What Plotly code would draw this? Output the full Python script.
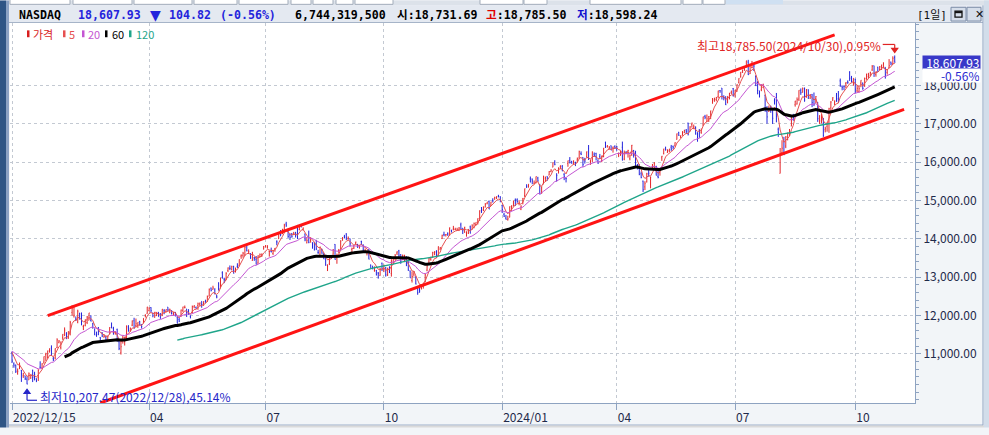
import numpy as np
import pandas as pd
import plotly.graph_objects as go

# ------------------------------------------------------------------ data
INDEX_NAME = "NASDAQ"
VOLUME_TEXT = "6,744,319,500"
FIRST_DAY = "2022-12-15"
LAST_DAY = "2024-10-30"
CAL_START = "2022-11-01"
HOLIDAYS = ["2022-11-24", "2022-12-26", "2023-01-02", "2023-01-16", "2023-02-20",
            "2023-04-07", "2023-05-29", "2023-06-19", "2023-07-04", "2023-09-04",
            "2023-11-23", "2023-12-25", "2024-01-01", "2024-01-15", "2024-02-19",
            "2024-03-29", "2024-05-27", "2024-06-19", "2024-07-04", "2024-09-02",
            "2024-11-28"]

# closes before the first shown bar (moving-average warm-up), 2022-11-01 .. 2022-12-14
PRE_CLOSE = [10890, 10525, 10343, 10475, 10565, 10617, 10353, 11114, 11323, 11196, 11358,
             11184, 11145, 11146, 11025, 11174, 11286, 11226, 11050, 10984, 11468,
             11482, 11462, 11240, 11015, 10958, 11082, 11005, 11144, 11256, 11171]

OPEN = [
    11027, 10741, 10706, 10497, 10611, 10572, 10429, 10431, 10339, 10321, 10368,
    10562, 10474, 10357, 10385, 10654, 10635, 10785, 10980, 10904, 11058, 11151, 10884, 10893, 11166, 11302, 11168, 11422, 11476, 11519, 11406,
    11574, 12081, 11994, 11910, 11830, 12066, 12057, 11715, 11745, 11819, 11877, 11878, 11800, 11656, 11525, 11681, 11432, 11555, 11439,
    11437, 11334, 11525, 11747, 11668, 11548, 11638, 11319, 11029, 11340, 11313, 11410, 11681, 11609, 11749, 11863, 11738, 11734, 11852, 11767, 11809, 12005, 12056,
    12131, 12211, 12066, 11953, 12001, 12086, 12055, 11993, 12125, 12112, 12221, 12087, 12060, 12031, 12083, 11961, 11899, 11983, 12134,
    12209, 12172, 12083, 11982, 12067, 12229, 12210, 12262, 12300, 12370, 12310, 12349, 12380, 12508, 12717, 12682, 12669, 12509, 12852, 12714, 13115, 12950,
    12952, 13171, 13231, 13198, 13284, 13143, 13282, 13309, 13552, 13572, 13576, 13838, 13620, 13618, 13436, 13510, 13467, 13371, 13526, 13571, 13738,
    13789, 13782, 13675, 13673, 13618, 13736, 13925, 14004, 14143, 14137, 14240, 14390, 14252, 14105, 14129, 14109, 14159, 14350, 14243, 14356,
    14248, 14131, 13898, 14040, 13959, 13903, 13910, 13841, 13650, 13602, 13718, 13584, 13550, 13178, 13351, 13552, 13600, 13857, 13501, 13695, 13730, 13982, 14058,
    14129, 14000, 14008, 13724, 13749, 13888, 13857, 13806, 13934, 13845, 13672, 13638, 13716, 13318, 13251, 13172, 13180, 13111, 13046, 13364,
    13217, 13247, 13070, 13243, 13096, 13373, 13477, 13632, 13688, 13590, 13464, 13439, 13490, 13360, 13165, 12914, 13084, 13008, 12703, 12680, 12715, 12797,
    12890, 13186, 13395, 13472, 13527, 13641, 13667, 13560, 13732, 14011, 14111, 14105, 14137, 14094, 14227, 14253, 14244, 14227, 14230, 14367, 14279,
    14181, 14157, 14151, 14314, 14249, 14297, 14375, 14416, 14520, 14815, 14753, 14826, 14919, 14974, 14880, 15010, 15034, 15070, 15113, 15100,
    14873, 14641, 14543, 14502, 14564, 14742, 14857, 15014, 15022, 14925, 14777, 14943, 15131, 15370, 15393, 15566, 15561, 15452, 15469, 15587, 15397,
    15222, 15483, 15585, 15630, 15664, 15758, 15870, 16000, 15702, 15770, 15889, 15896, 15683, 15580, 15970, 16052, 16013, 16004, 15991, 16058,
    16109, 16227, 16125, 16066, 16146, 16355, 16010, 16083, 16210, 16227, 16034, 16153, 16031, 16150, 16511, 16406, 16353, 16432, 16394, 16411,
    16401, 16192, 16180, 16390, 16082, 16259, 16283, 16091, 16211, 16307, 16259, 15882, 15924, 15700, 15506, 15357, 15487, 15777, 15431, 15856, 15981, 15887,
    15630, 15729, 16114, 16224, 16375, 16254, 16301, 16393, 16413, 16426, 16597, 16782, 16670, 16706, 16768, 16841, 17019, 16806, 16988, 16893, 16919, 16778,
    16846, 16773, 16970, 17197, 17067, 17084, 17202, 17550, 17637, 17639, 17713, 17870, 17935, 17698, 17661, 17560, 17655, 17815, 17921,
    17758, 17851, 18071, 18229, 18388, 18426, 18477, 18613, 18306, 18469, 18546, 18237, 18079, 17802, 17887, 17949, 17749, 17320, 17327, 17463, 17390, 17603,
    17641, 16862, 15708, 16254, 16597, 16423, 16588, 16769, 16940, 17207, 17500, 17519, 17647, 17863, 17827, 17931, 17718, 17890, 17673, 17761, 17638, 17652,
    17563, 17054, 17057, 17120, 16849, 16936, 17049, 17418, 17622, 17545, 17730, 17657, 18121, 17983, 17983, 18060, 18094, 18349, 18206, 18089,
    18167, 17861, 17847, 18067, 18064, 17991, 18186, 18236, 18250, 18407, 18518, 18292, 18480, 18420, 18449, 18456, 18478, 18341, 18475, 18611, 18560, 18731.69,
]
HIGH = [
    11063, 10779, 10723, 10620, 10775, 10583, 10500, 10431, 10414, 10516, 10468,
    10591, 10534, 10361, 10602, 10807, 10756, 10932, 11029, 11086, 11147, 11223, 10920, 11143, 11407, 11361, 11323, 11514, 11691, 11567, 11587,
    11862, 12270, 12227, 11977, 12153, 12068, 12080, 11760, 11897, 11990, 12070, 12008, 11800, 11657, 11581, 11702, 11440, 11567, 11513,
    11474, 11473, 11696, 11819, 11707, 11591, 11659, 11393, 11318, 11474, 11448, 11744, 11749, 11683, 11872, 11942, 11922, 11824, 11859, 11770, 11930, 12031, 12227,
    12217, 12219, 12074, 12096, 12090, 12090, 12063, 12172, 12169, 12160, 12221, 12182, 12143, 12091, 12094, 11979, 11945, 12157, 12229,
    12262, 12172, 12167, 12006, 12262, 12269, 12236, 12338, 12339, 12372, 12373, 12414, 12521, 12704, 12731, 12778, 12714, 12541, 12866, 12983, 13154, 12988,
    13130, 13257, 13307, 13301, 13297, 13249, 13365, 13464, 13594, 13661, 13804, 13864, 13727, 13627, 13663, 13528, 13553, 13573, 13620, 13622, 13816,
    13839, 13836, 13692, 13772, 13713, 13763, 13964, 14141, 14232, 14264, 14394, 14446, 14258, 14128, 14155, 14183, 14184, 14364, 14356, 14388,
    14297, 14131, 14016, 14216, 14041, 13908, 13915, 13975, 13714, 13791, 13743, 13638, 13571, 13337, 13511, 13582, 13732, 13864, 13615, 13738, 13966, 14047, 14105,
    14149, 14064, 14011, 13773, 13838, 13927, 13869, 13847, 13952, 13856, 13747, 13689, 13733, 13331, 13302, 13277, 13190, 13135, 13246, 13382,
    13329, 13265, 13248, 13286, 13471, 13492, 13606, 13678, 13714, 13602, 13592, 13587, 13550, 13422, 13175, 13150, 13160, 13023, 12729, 12722, 12812, 12852,
    13091, 13305, 13503, 13533, 13664, 13681, 13705, 13803, 13789, 14109, 14188, 14128, 14172, 14299, 14238, 14340, 14291, 14290, 14309, 14423, 14280,
    14315, 14195, 14260, 14347, 14382, 14426, 14432, 14533, 14745, 14832, 14850, 14933, 14964, 15003, 14966, 15060, 15101, 15112, 15150, 15111,
    14887, 14683, 14626, 14603, 14846, 14876, 15003, 15055, 15057, 15009, 14874, 15068, 15311, 15426, 15428, 15627, 15575, 15524, 15628, 15619, 15434,
    15365, 15649, 15627, 15632, 15769, 15817, 15990, 16053, 15706, 15861, 15918, 15926, 15716, 15590, 16042, 16134, 16038, 16047, 16013, 16123,
    16302, 16283, 16130, 16115, 16279, 16449, 16071, 16282, 16255, 16247, 16077, 16216, 16170, 16370, 16538, 16446, 16422, 16435, 16401, 16442,
    16425, 16251, 16301, 16538, 16304, 16291, 16324, 16207, 16451, 16320, 16299, 15955, 15945, 15757, 15522, 15504, 15724, 15786, 15623, 15955, 15996, 15908,
    15840, 15846, 16165, 16349, 16407, 16338, 16346, 16451, 16434, 16518, 16748, 16791, 16702, 16810, 16846, 16865, 17032, 16940, 17032, 16983, 16932, 16780,
    16860, 16879, 17188, 17236, 17245, 17206, 17343, 17675, 17682, 17703, 17866, 17880, 17936, 17747, 17723, 17722, 17806, 17864, 17937,
    17888, 18030, 18189, 18352, 18416, 18464, 18647, 18671, 18528, 18642, 18577, 18268, 18115, 17871, 18032, 18049, 17756, 17465, 17476, 17473, 17422, 17669,
    17807, 16905, 16371, 16574, 16662, 16681, 16774, 16867, 17191, 17262, 17602, 17690, 17878, 17925, 17951, 17948, 17910, 17900, 17777, 17782, 17819, 17725,
    17570, 17228, 17261, 17155, 16927, 17026, 17420, 17594, 17695, 17612, 17807, 17858, 18183, 18003, 18001, 18085, 18135, 18375, 18252, 18190,
    18177, 17989, 17987, 18138, 18079, 18209, 18312, 18331, 18361, 18535, 18519, 18367, 18490, 18509, 18542, 18608, 18478, 18429, 18690, 18625, 18763, 18785.50,
]
LOW = [
    10761, 10639, 10502, 10457, 10607, 10269, 10373, 10318, 10207.47, 10321, 10349,
    10265, 10309, 10263, 10294, 10630, 10600, 10743, 10818, 10880, 11033, 10951, 10811, 10858, 11150, 11275, 11116, 11367, 11470, 11392, 11395,
    11483, 11997, 11947, 11858, 11799, 11896, 11745, 11622, 11719, 11778, 11876, 11848, 11657, 11491, 11445, 11487, 11331, 11438, 11424,
    11355, 11320, 11508, 11670, 11501, 11502, 11324, 11098, 10983, 11268, 11218, 11345, 11577, 11574, 11723, 11667, 11693, 11679, 11737, 11662, 11801, 11951, 12048,
    12108, 12081, 11955, 11946, 11986, 11972, 11919, 11990, 12034, 12082, 12113, 12059, 12028, 11998, 11975, 11794, 11829, 11965, 12095,
    12187, 11963, 12023, 11925, 12061, 12190, 12179, 12151, 12254, 12204, 12253, 12343, 12355, 12500, 12629, 12677, 12555, 12450, 12650, 12713, 12962, 12846,
    12920, 13134, 13186, 13182, 13097, 13125, 13244, 13283, 13480, 13510, 13560, 13675, 13606, 13480, 13430, 13428, 13335, 13350, 13513, 13528, 13722,
    13783, 13746, 13538, 13650, 13582, 13664, 13832, 13999, 14068, 14124, 14189, 14313, 14027, 13970, 14032, 14102, 14036, 13995, 14224, 14298,
    14221, 13939, 13883, 13886, 13901, 13744, 13695, 13708, 13608, 13589, 13610, 13474, 13299, 13161, 13317, 13476, 13585, 13459, 13351, 13624, 13723, 13950, 14012,
    13970, 13977, 13801, 13646, 13745, 13848, 13768, 13745, 13837, 13687, 13650, 13568, 13468, 13223, 13210, 13144, 13046, 12963, 13039, 13161,
    13133, 13017, 13031, 13108, 13017, 13337, 13456, 13580, 13485, 13349, 13460, 13393, 13289, 13165, 12978, 12861, 13018, 12814, 12543, 12594, 12680, 12703,
    12871, 13154, 13376, 13431, 13507, 13574, 13508, 13552, 13716, 13996, 14068, 14062, 14080, 14086, 14166, 14221, 14227, 14206, 14204, 14247, 14126,
    14158, 14058, 14126, 14144, 14242, 14277, 14345, 14373, 14467, 14676, 14724, 14822, 14903, 14777, 14861, 14948, 15024, 15042, 15086, 14956,
    14674, 14570, 14505, 14477, 14562, 14737, 14850, 14860, 14942, 14876, 14750, 14900, 15090, 15329, 15336, 15478, 15426, 15432, 15449, 15494, 15162,
    15175, 15421, 15508, 15519, 15658, 15738, 15870, 15920, 15494, 15704, 15817, 15766, 15533, 15473, 15881, 15967, 15962, 15934, 15899, 15988,
    16096, 16186, 15880, 15964, 16121, 16058, 15932, 16007, 16141, 16046, 15958, 16093, 16000, 16128, 16372, 16383, 16332, 16314, 16250, 16346,
    16301, 16133, 16168, 16049, 16052, 16214, 16121, 16050, 16165, 16121, 15868, 15811, 15661, 15580, 15223, 15275, 15472, 15622, 15318, 15833, 15831, 15656,
    15580, 15649, 16035, 16205, 16301, 16246, 16262, 16297, 16334, 16416, 16591, 16689, 16631, 16694, 16761, 16738, 16699, 16800, 16904, 16862, 16720, 16535,
    16636, 16742, 16952, 17123, 17049, 17050, 17124, 17526, 17577, 17589, 17668, 17811, 17637, 17615, 17493, 17535, 17641, 17777, 17714,
    17691, 17836, 18062, 18207, 18328, 18384, 18473, 18275, 18301, 18450, 18379, 17989, 17772, 17688, 17853, 17934, 17318, 17006, 17312, 17290, 16998, 17504,
    17041, 16662, 15708, 16221, 16190, 16367, 16572, 16684, 16940, 17082, 17450, 17505, 17595, 17758, 17815, 17577, 17682, 17650, 17651, 17437, 17465, 17541,
    17053, 16999, 17013, 16661, 16779, 16796, 16767, 17336, 17600, 17490, 17575, 17549, 17967, 17877, 17880, 17935, 18044, 18121, 18078, 17995,
    17796, 17826, 17814, 17958, 17890, 17967, 18150, 18183, 18245, 18383, 18226, 18232, 18358, 18399, 18407, 18453, 18181, 18285, 18459, 18532, 18559, 18598.24,
]
CLOSE = [
    10811, 10705, 10546, 10547, 10709, 10476, 10498, 10354, 10214, 10479, 10466,
    10386, 10459, 10305, 10569, 10635, 10742, 10932, 11001, 11079, 11095, 10957, 10852, 11140, 11365, 11334, 11313, 11512, 11621, 11394, 11584,
    11816, 12201, 12007, 11888, 12114, 11910, 11789, 11718, 11892, 11961, 12070, 11855, 11787, 11492, 11507, 11590, 11395, 11467, 11456,
    11379, 11462, 11689, 11676, 11530, 11576, 11338, 11139, 11188, 11428, 11434, 11717, 11631, 11675, 11860, 11670, 11787, 11824, 11768, 11716, 11926, 12013, 12222,
    12189, 12126, 11996, 12088, 12085, 11972, 11929, 12166, 12123, 12158, 12153, 12157, 12060, 12073, 12037, 11799, 11854, 12143, 12227,
    12213, 12081, 12026, 11967, 12235, 12257, 12180, 12306, 12329, 12285, 12366, 12343, 12501, 12688, 12658, 12720, 12560, 12484, 12698, 12976, 13017, 12935,
    13101, 13241, 13230, 13276, 13105, 13239, 13259, 13461, 13573, 13626, 13782, 13689, 13667, 13502, 13630, 13492, 13336, 13555, 13592, 13591, 13788,
    13817, 13791, 13679, 13661, 13685, 13760, 13919, 14138, 14113, 14244, 14354, 14358, 14063, 14032, 14059, 14145, 14127, 14050, 14317, 14346,
    14283, 13973, 13960, 13909, 14014, 13885, 13723, 13738, 13645, 13789, 13631, 13475, 13316, 13290, 13498, 13506, 13722, 13464, 13591, 13705, 13944, 14020, 14035,
    14031, 14021, 13873, 13749, 13761, 13918, 13774, 13814, 13926, 13708, 13711, 13679, 13469, 13224, 13212, 13271, 13063, 13092, 13201, 13219,
    13308, 13059, 13236, 13220, 13431, 13485, 13562, 13659, 13574, 13407, 13568, 13533, 13314, 13187, 12984, 13019, 13139, 12821, 12596, 12643, 12789, 12851,
    13061, 13294, 13478, 13518, 13639, 13650, 13521, 13798, 13768, 14094, 14104, 14114, 14125, 14285, 14200, 14266, 14251, 14241, 14282, 14258, 14226,
    14305, 14185, 14230, 14147, 14340, 14404, 14432, 14533, 14734, 14762, 14814, 14905, 14964, 14778, 14964, 14993, 15074, 15099, 15095, 15011,
    14766, 14592, 14510, 14524, 14843, 14857, 14970, 15003, 14973, 14944, 14856, 15056, 15311, 15360, 15426, 15482, 15511, 15455, 15628, 15510, 15164,
    15361, 15629, 15598, 15582, 15756, 15794, 15990, 15942, 15656, 15859, 15906, 15776, 15630, 15580, 16041, 15997, 15976, 16035, 15948, 16092,
    16275, 16208, 15940, 16032, 16273, 16085, 16019, 16266, 16178, 16129, 15973, 16103, 16167, 16370, 16402, 16429, 16385, 16316, 16400, 16379,
    16397, 16240, 16277, 16050, 16249, 16253, 16307, 16170, 16443, 16175, 15885, 15865, 15684, 15602, 15282, 15451, 15697, 15713, 15612, 15928, 15983, 15658,
    15605, 15841, 16156, 16349, 16333, 16302, 16346, 16341, 16388, 16512, 16743, 16698, 16686, 16795, 16833, 16802, 16737, 16921, 17020, 16921, 16737, 16735,
    16829, 16857, 17187, 17173, 17133, 17193, 17343, 17608, 17667, 17689, 17862, 17862, 17721, 17689, 17497, 17718, 17805, 17858, 17733,
    17879, 18029, 18188, 18352, 18403, 18429, 18647, 18283, 18398, 18473, 18509, 17996, 17871, 17727, 18008, 17997, 17342, 17182, 17358, 17370, 17147, 17599,
    17195, 16776, 16200, 16366, 16196, 16660, 16745, 16781, 17188, 17192, 17595, 17632, 17877, 17817, 17919, 17619, 17878, 17726, 17755, 17557, 17516, 17714,
    17136, 17085, 17128, 16691, 16885, 17026, 17396, 17570, 17684, 17593, 17628, 17573, 18014, 17948, 17974, 18075, 18082, 18190, 18119, 18189,
    17910, 17925, 17919, 18138, 17923, 18183, 18292, 18282, 18343, 18503, 18316, 18367, 18374, 18490, 18540, 18573, 18277, 18416, 18519, 18567, 18712.75, 18607.93,
]

MA_PERIODS = [5, 20, 60, 120]
MA_KINDS = ["ema", "ema", "ema", "sma"]
MA_COLORS = ["#E65050", "#C455D2", "#000000", "#1FA58A"]
MA_WIDTHS = [1, 1, 3, 1.4]

# hand-drawn channel lines: (date, value) end points
UPPER_DATES = ["2023-01-13", "2024-09-16"]
UPPER_VALUES = [12000, 19324]
LOWER_DATES = ["2023-02-24", "2024-11-06"]
LOWER_VALUES = [9719, 17378]

TICK_MONTHS = ["2023-04", "2023-07", "2023-10", "2024-01", "2024-04", "2024-07", "2024-10"]
TICK_LABELS = ["2022/12/15", "04", "07", "10", "2024/01", "04", "07", "10"]
PRICE_TICKS = [11000, 12000, 13000, 14000, 15000, 16000, 17000, 18000]
Y_RANGE = [9719, 19632]
X_PAD = [-1.07, 10.8]

# ------------------------------------------------------------------ calendar
hol = set(pd.to_datetime(HOLIDAYS))
cal = [d for d in pd.bdate_range(CAL_START, "2024-11-29") if d not in hol]
pos = {d: i for i, d in enumerate(cal)}
off = pos[pd.Timestamp(FIRST_DAY)]
n = min(len(OPEN), len(HIGH), len(LOW), len(CLOSE))
dates = cal[off:off + n]
xi = np.arange(n)


def xidx(d):
    return pos[pd.Timestamp(d)] - off


full_close = np.array(PRE_CLOSE + CLOSE[:n], dtype=float)


def moving_average(vals, period, kind):
    out = np.full(len(vals), np.nan)
    if len(vals) < period:
        return out
    if kind == "sma":
        return pd.Series(vals).rolling(period).mean().to_numpy()
    out[period - 1] = vals[:period].mean()
    a = 2.0 / (period + 1)
    for i in range(period, len(vals)):
        out[i] = a * vals[i] + (1 - a) * out[i - 1]
    return out


RED = "#E4262A"
BLUE = "#2424DC"
AX = "#8EA3C1"
GRID = "#C3C9D2"
TXT = "#1F2A4A"
CJK = "Noto Sans CJK KR, Noto Sans, sans-serif"
MONO = "DejaVu Sans Mono, Noto Sans CJK KR, monospace"

fig = go.Figure()
fig.add_trace(go.Ohlc(x=xi, open=OPEN[:n], high=HIGH[:n], low=LOW[:n], close=CLOSE[:n],
                      increasing=dict(line=dict(color=RED, width=1)),
                      decreasing=dict(line=dict(color=BLUE, width=1)),
                      tickwidth=0.3, hoverinfo="skip", showlegend=False))

for k in [0, 1, 3, 2]:
    ma = moving_average(full_close, MA_PERIODS[k], MA_KINDS[k])[-n:]
    fig.add_trace(go.Scatter(x=xi, y=ma, mode="lines", hoverinfo="skip", showlegend=False,
                             line=dict(color=MA_COLORS[k], width=MA_WIDTHS[k])))

for ds, vs in ((UPPER_DATES, UPPER_VALUES), (LOWER_DATES, LOWER_VALUES)):
    fig.add_trace(go.Scatter(x=[xidx(d) for d in ds], y=vs, mode="lines", hoverinfo="skip",
                             showlegend=False, line=dict(color="#FF1414", width=3)))

tickvals = [0]
for m in TICK_MONTHS:
    tickvals.append(next(i for i, d in enumerate(dates) if d.strftime("%Y-%m") == m))

# ------------------------------------------------------------------ layout helpers
W, H = 989, 435
ML, MR, MT, MB = 10, 74, 23, 25
PW, PH = W - ML - MR, H - MT - MB


def px(x):
    return (x - ML) / PW


def py(y):
    return (H - MB - y) / PH


shapes = []


def rect(x0, y0, x1, y1, fill, line=None, lw=0):
    shapes.append(dict(type="rect", xref="paper", yref="paper", x0=px(x0), x1=px(x1),
                       y0=py(y1), y1=py(y0), fillcolor=fill,
                       line=dict(color=line or fill, width=lw)))


def hline(x0, x1, y, color, w=1):
    shapes.append(dict(type="line", xref="paper", yref="paper", x0=px(x0), x1=px(x1),
                       y0=py(y), y1=py(y), line=dict(color=color, width=w)))


def vline(x, y0, y1, color, w=1):
    shapes.append(dict(type="line", xref="paper", yref="paper", x0=px(x), x1=px(x),
                       y0=py(y0), y1=py(y1), line=dict(color=color, width=w)))


def pix_shape(xa, ya, color, **kw):
    d = dict(xref="x", yref="y", xsizemode="pixel", ysizemode="pixel", xanchor=xa, yanchor=ya,
             line=dict(color=color, width=1.2))
    d.update(kw)
    shapes.append(d)


# window chrome
rect(0, 0, 989, 5, "#DCE2EA")
for a, b in [(10, 70), (73, 132), (134, 192), (194, 237), (239, 288), (291, 311), (313, 333),
             (336, 353), (355, 393), (480, 523), (524, 547), (590, 681), (683, 702), (703, 725)]:
    rect(a, -2, b, 4, "#FFFFFF", "#A3ADBB", 1)
rect(726, -2, 783, 4, "#CFE0F2")
rect(9, 5, 983, 22.5, "#E4E9F1")
hline(9, 983, 22.5, "#A6B4C8")
rect(0, 0, 6, 435, "#2E5585")
rect(6, 0, 9, 435, "#8BA2C4")
vline(983, 5, 433, AX)
rect(984, 0, 989, 435, "#D2DDEA")
hline(9, 983, 432.5, AX)
rect(9, 433, 984, 435, "#DADADA")
rect(951, 7, 966, 21, "#D6DEEA", "#7C8DA8", 1)
rect(967, 7, 981, 21, "#D6DEEA", "#7C8DA8", 1)
rect(955, 11, 962, 17, "rgba(0,0,0,0)", "#111111", 1.3)
rect(955, 11, 962, 13, "#111111", "#111111", 0)
for xs, col in [(27, "#D81E1E"), (63, "#E65050"), (82, "#C455D2"), (105, "#000000"), (129, "#1FA58A")]:
    rect(xs, 30.5, xs + 2.5, 37.5, col)

ann = []


def txt(x, y, s, color=TXT, size=12, family=CJK, xanchor="left"):
    ann.append(dict(xref="paper", yref="paper", x=px(x), y=py(y), text=s, showarrow=False,
                    xanchor=xanchor, yanchor="middle", borderpad=0,
                    font=dict(color=color, size=size, family=family)))


chg = CLOSE[n - 1] - CLOSE[n - 2]
pct = chg / CLOSE[n - 2] * 100
arrow = "▼" if chg < 0 else "▲"
HB = 11.6
txt(18, 14.5, f"<b>{INDEX_NAME}</b>", "#000000", HB, MONO)
txt(77, 14.5, f"<b>{CLOSE[n-1]:,.2f}</b>", BLUE, HB, MONO)
txt(149, 14.5, arrow, BLUE, 14, "DejaVu Sans")
txt(168, 14.5, f"<b>{abs(chg):,.2f}</b>", BLUE, HB, MONO)
txt(219, 14.5, f"<b>({pct:.2f}%)</b>", BLUE, HB, MONO)
txt(294, 14.5, f"<b>{VOLUME_TEXT}</b>", "#000000", HB, MONO)
txt(396, 14.5, f"<b>시:{OPEN[n-1]:,.2f}</b>", "#000000", HB, MONO)
txt(485, 14.5, f"<b><span style='color:#E00000'>고</span>:{HIGH[n-1]:,.2f}</b>", "#000000", HB, MONO)
txt(576, 14.5, f"<b><span style='color:#1010D0'>저</span>:{LOW[n-1]:,.2f}</b>", "#000000", HB, MONO)
txt(916, 14.5, "[1일]", "#111111", 11, MONO)
txt(974, 14.5, "<b>✕</b>", "#111111", 11, "DejaVu Sans")

txt(31.5, 34, "가격", "#D81E1E", 11)
txt(67.5, 34, "5", "#E65050", 11)
txt(86.5, 34, "20", "#C455D2", 11)
txt(110.5, 34, "60", "#000000", 11)
txt(134.5, 34, "120", "#1FA58A", 11)

# max / min markers
imax = int(np.argmax(HIGH[:n]))
imin = int(np.argmin(LOW[:n]))
hmax, lmin, last = HIGH[imax], LOW[imin], CLOSE[n - 1]
MAXC, MINC = "#E02424", "#2626C8"
ann.append(dict(xref="x", yref="y", x=imax, y=hmax, showarrow=False, xanchor="right", yanchor="middle",
                xshift=-13, yshift=10, borderpad=0,
                text=f"최고{hmax:,.2f}({dates[imax]:%Y/%m/%d}),{(hmax-last)/last*100:.2f}%",
                font=dict(color=MAXC, size=12, family=CJK)))
pix_shape(imax, hmax, MAXC, type="line", x0=-12, x1=0, y0=11, y1=11)
pix_shape(imax, hmax, MAXC, type="line", x0=0, x1=0, y0=11, y1=6)
pix_shape(imax, hmax, MAXC, type="path", path="M-3,7 L3,7 L0,3 Z", fillcolor=MAXC)

ann.append(dict(xref="x", yref="y", x=imin, y=lmin, showarrow=False, xanchor="left", yanchor="middle",
                xshift=12, yshift=-12, borderpad=0,
                text=f"최저{lmin:,.2f}({dates[imin]:%Y/%m/%d}),{(last-lmin)/last*100:.2f}%",
                font=dict(color=MINC, size=12, family=CJK)))
pix_shape(imin, lmin, MINC, type="line", x0=0, x1=0, y0=-8, y1=-16)
pix_shape(imin, lmin, MINC, type="line", x0=0, x1=10, y0=-16, y1=-16)
pix_shape(imin, lmin, MINC, type="path", path="M-3,-9 L3,-9 L0,-5 Z", fillcolor=MINC)

# current price tag
ann.append(dict(xref="paper", yref="y", x=px(922), y=last, xanchor="left", yanchor="middle",
                showarrow=False, text=f"{last:,.2f}", bgcolor="#3838C8", width=56, height=12,
                align="right", borderpad=0.5, font=dict(color="#FFFFFF", size=12, family=CJK)))
ann.append(dict(xref="paper", yref="y", x=px(922), y=last, xanchor="left", yanchor="middle",
                yshift=-13, showarrow=False, text=f"{pct:.2f}%", bgcolor="#FFFFFF", width=56,
                height=12, align="right", borderpad=0.5, font=dict(color="#2A2AD0", size=12, family=CJK)))

fig.update_layout(
    width=W, height=H, margin=dict(l=ML, r=MR, t=MT, b=MB),
    paper_bgcolor="#F2F5F8", plot_bgcolor="#FFFFFF", showlegend=False,
    font=dict(family=CJK, size=12, color=TXT),
    shapes=shapes, annotations=ann,
    xaxis=dict(range=[X_PAD[0], n - 1 + X_PAD[1]], tickmode="array", tickvals=tickvals, ticktext=TICK_LABELS,
               ticks="outside", ticklen=6, tickcolor=AX, showline=True, linecolor=AX, linewidth=1,
               showgrid=True, gridcolor=GRID, griddash="dot", gridwidth=1, zeroline=False,
               ticklabelposition="outside right", ticklabelstandoff=4,
               rangeslider=dict(visible=False), fixedrange=True,
               tickfont=dict(size=12, color=TXT, family=CJK)),
    yaxis=dict(side="right", range=Y_RANGE, tickmode="array", tickvals=PRICE_TICKS, tickformat=",.2f",
               ticks="outside", ticklen=5, tickcolor=AX, showline=True, linecolor=AX, linewidth=1,
               showgrid=True, gridcolor=GRID, griddash="dot", gridwidth=1, zeroline=False, fixedrange=True,
               minor=dict(dtick=200, tick0=0, ticks="outside", ticklen=3, tickcolor=AX, showgrid=False),
               tickfont=dict(size=12, color=TXT, family=CJK)),
)

fig.write_html("out.html", config={"displayModeBar": False})
